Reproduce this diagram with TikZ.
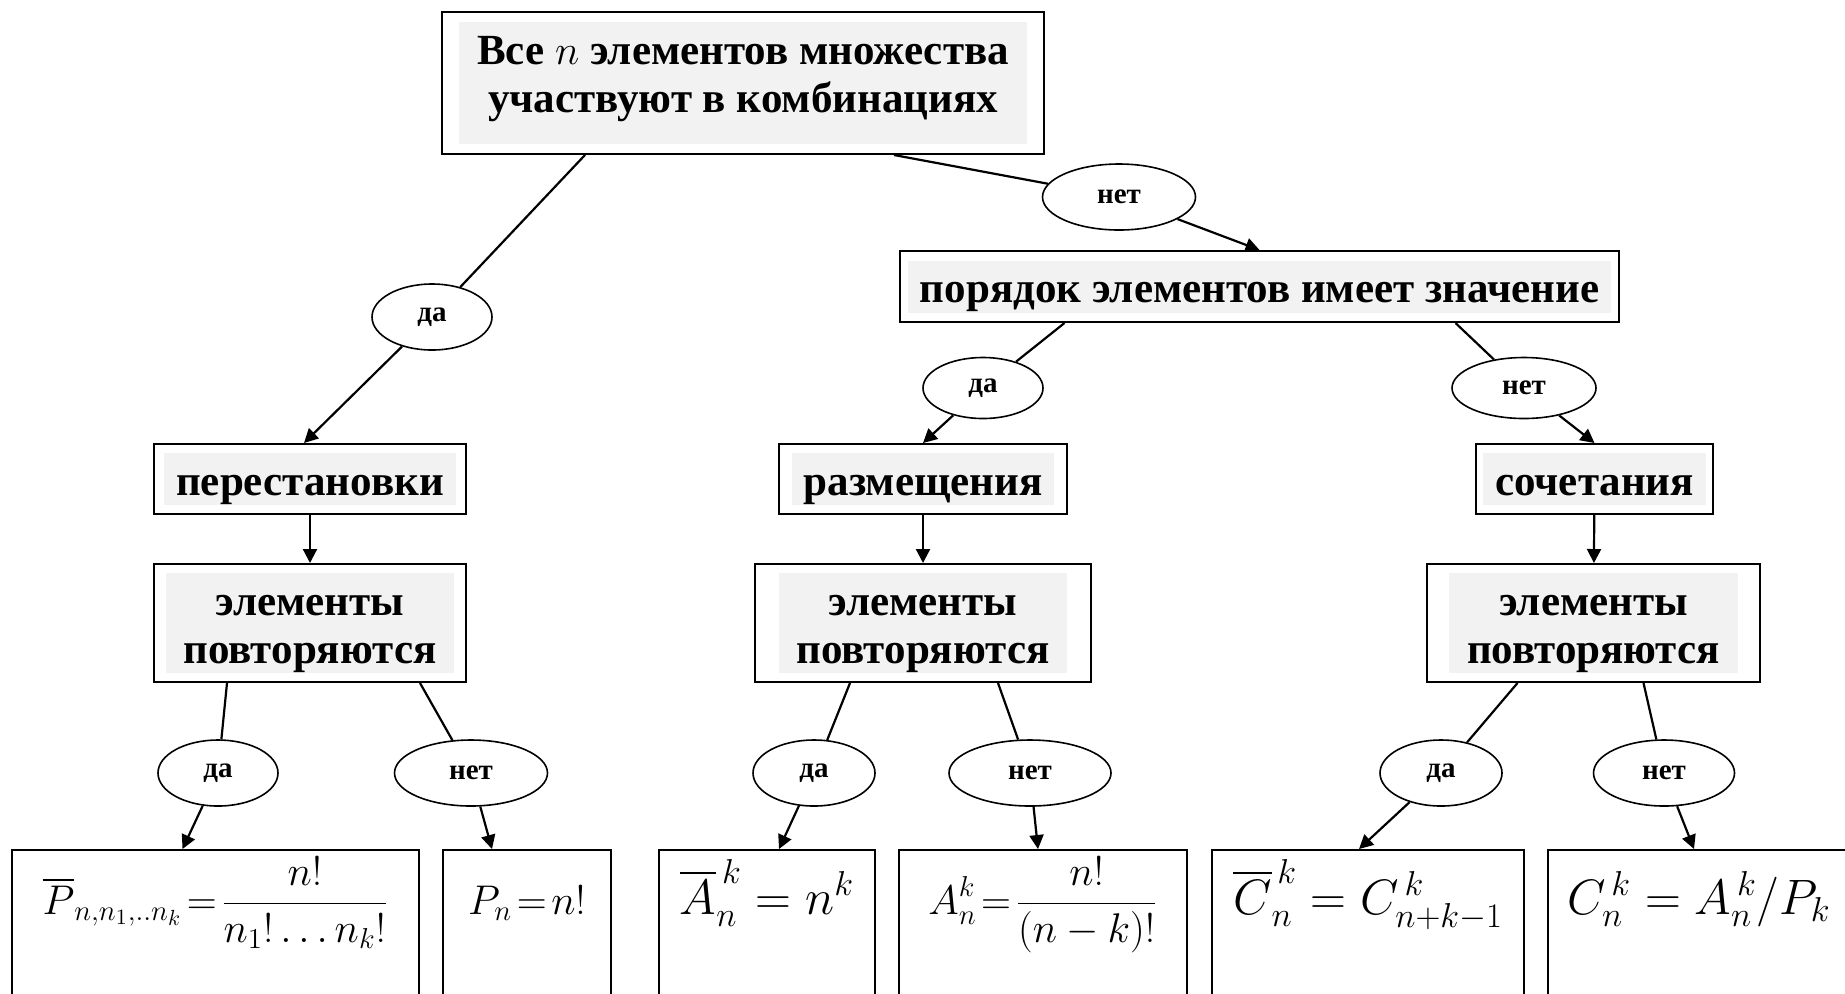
\documentclass[tikz,border=0pt]{standalone}
\usepackage{amsmath}
\usepackage{fontspec}
\setmainfont{Liberation Serif}
\usetikzlibrary{shapes.geometric,arrows.meta,calc}

\definecolor{shadegray}{HTML}{F2F2F2}
% shaded text band inside a box
\newcommand{\grbox}[1]{{\setlength{\fboxsep}{0pt}%
	\colorbox{shadegray}{\hspace{6pt}\rule[-5pt]{0pt}{26pt}#1\hspace{6pt}}}}
\newcommand{\twolines}[3][5pt]{{\setlength{\fboxsep}{0pt}\renewcommand{\arraystretch}{0.5}%
	\colorbox{shadegray}{\begin{tabular}{@{\hspace{9pt}}c@{\hspace{9pt}}}
		\rule[-7pt]{0pt}{28pt}#2\\
		\rule[-#1]{0pt}{\dimexpr17pt+#1\relax}#3
	\end{tabular}}}}

\tikzset{
	box/.style={draw, line width=1pt, fill=white, inner sep=0pt, minimum height=35pt,
		font=\bfseries\fontsize{21.5}{24}\selectfont},
	oval/.style={draw, ellipse, line width=0.8pt, fill=white, inner sep=0pt,
		minimum width=60pt, minimum height=33pt, font=\bfseries\fontsize{14.5}{16}\selectfont},
	fbox/.style={draw, line width=1pt, anchor=north, inner sep=0pt,
		text height=32pt, text depth=100pt, font=\fontsize{22}{26}\selectfont},
	link/.style={line width=1.1pt},
	arr/.style={line width=1.1pt, -{Triangle[length=7pt,width=7pt]}}
}

\begin{document}
\begin{tikzpicture}[x=0.5pt,y=-0.5pt]
	\clip (0,0) rectangle (1845,993);
	\fill[white] (0,0) rectangle (1845,993);

	% first question
	\node[box, minimum width=301pt, minimum height=71pt] (all) at (743,83)
		{\twolines[16pt]{Все $n$ элементов множества}{участвуют в комбинациях}};
	\node[oval] (allYes) at (432,317) {да};
	\node[oval, minimum width=76.5pt] (allNo) at (1119,197) {нет};
	\node[box, minimum width=359.5pt, minimum height=35.5pt] (order) at (1259.5,286.5)
		{\grbox{порядок элементов имеет значение}};
	\node[oval, minimum width=60pt, minimum height=30.5pt] (ordYes) at (983,388) {да};
	\node[oval, minimum width=72pt, minimum height=30.5pt] (ordNo) at (1524,388) {нет};

	% kinds
	\node[box, minimum width=156pt] (perm) at (310,479) {\grbox{перестановки}};
	\node[box, minimum width=144pt] (arrang) at (923,479) {\grbox{размещения}};
	\node[box, minimum width=118.5pt] (combi) at (1594.5,479) {\grbox{сочетания}};

	\node[box, minimum width=156pt, minimum height=59pt] (repP) at (310,623)
		{\twolines{элементы}{повторяются}};
	\node[box, minimum width=168pt, minimum height=59pt] (repA) at (923,623)
		{\twolines{элементы}{повторяются}};
	\node[box, minimum width=166.5pt, minimum height=59pt] (repC) at (1593.5,623)
		{\twolines{элементы}{повторяются}};

	\node[oval] (pYes) at (218,773) {да};
	\node[oval, minimum width=76.5pt] (pNo) at (471,773) {нет};
	\node[oval, minimum width=61pt] (aYes) at (814,773) {да};
	\node[oval, minimum width=81pt] (aNo) at (1030,773) {нет};
	\node[oval, minimum width=61pt] (cYes) at (1441,773) {да};
	\node[oval, minimum width=70.5pt] (cNo) at (1664,773) {нет};

	% formulas
	\node[fbox, minimum width=203.5pt] (pRep) at (215.5,849)
		{$\displaystyle\overline{P}_{n,n_1,..n_k}\!=\!\frac{n!}{n_1!\ldots n_k!}$};
	\node[fbox, minimum width=84pt] (pNoRep) at (527,849) {$P_n\!=\!n!$};
	\node[fbox, minimum width=108pt, font=\fontsize{25}{28}\selectfont] (aRep) at (767,849)
		{$\overline{A}_n^{\,k}=n^k$};
	\node[fbox, minimum width=144pt] (aNoRep) at (1043,849)
		{$\displaystyle A_n^k\!=\!\frac{n!}{(n-k)!}$};
	\node[fbox, minimum width=156pt, font=\fontsize{25}{28}\selectfont] (cRep) at (1368,849)
		{$\overline{C}_n^{\,k}=C_{n+k-1}^{\,k}$};
	\node[fbox, minimum width=151pt, font=\fontsize{24}{28}\selectfont] (cNoRep) at (1699,849)
		{$C_n^{\,k}=A_n^{\,k}/P_k$};

	% connectors
	\draw[link] ($(all.south)+(-158,0)$) -- (allYes);
	\draw[arr] (allYes) -- ($(perm.north)+(-6,0)$);
	\draw[link] ($(all.south)+(151,0)$) -- (allNo);
	\draw[arr] (allNo) -- (order.north);
	\draw[link] ($(order.south)+(-195,0)$) -- (ordYes);
	\draw[arr] (ordYes) -- (arrang.north);
	\draw[link] ($(order.south)+(196,0)$) -- (ordNo);
	\draw[arr] (ordNo) -- (combi.north);

	\draw[arr] (perm) -- (repP);
	\draw[arr] (arrang) -- (repA);
	\draw[arr] (combi) -- (repC);

	\draw[link] ($(repP.south)+(-83,0)$) -- (pYes);
	\draw[arr] (pYes) -- ($(pRep.north)+(-33,0)$);
	\draw[link] ($(repP.south)+(110,0)$) -- (pNo);
	\draw[arr] (pNo) -- ($(pNoRep.north)+(-35,0)$);
	\draw[link] ($(repA.south)+(-73,0)$) -- (aYes);
	\draw[arr] (aYes) -- ($(aRep.north)+(12,0)$);
	\draw[link] ($(repA.south)+(75,0)$) -- (aNo);
	\draw[arr] (aNo) -- ($(aNoRep.north)+(-5,0)$);
	\draw[link] ($(repC.south)+(-76,0)$) -- (cYes);
	\draw[arr] (cYes) -- ($(cRep.north)+(-9,0)$);
	\draw[link] ($(repC.south)+(50,0)$) -- (cNo);
	\draw[arr] (cNo) -- ($(cNoRep.north)+(-5,0)$);
\end{tikzpicture}
\end{document}
